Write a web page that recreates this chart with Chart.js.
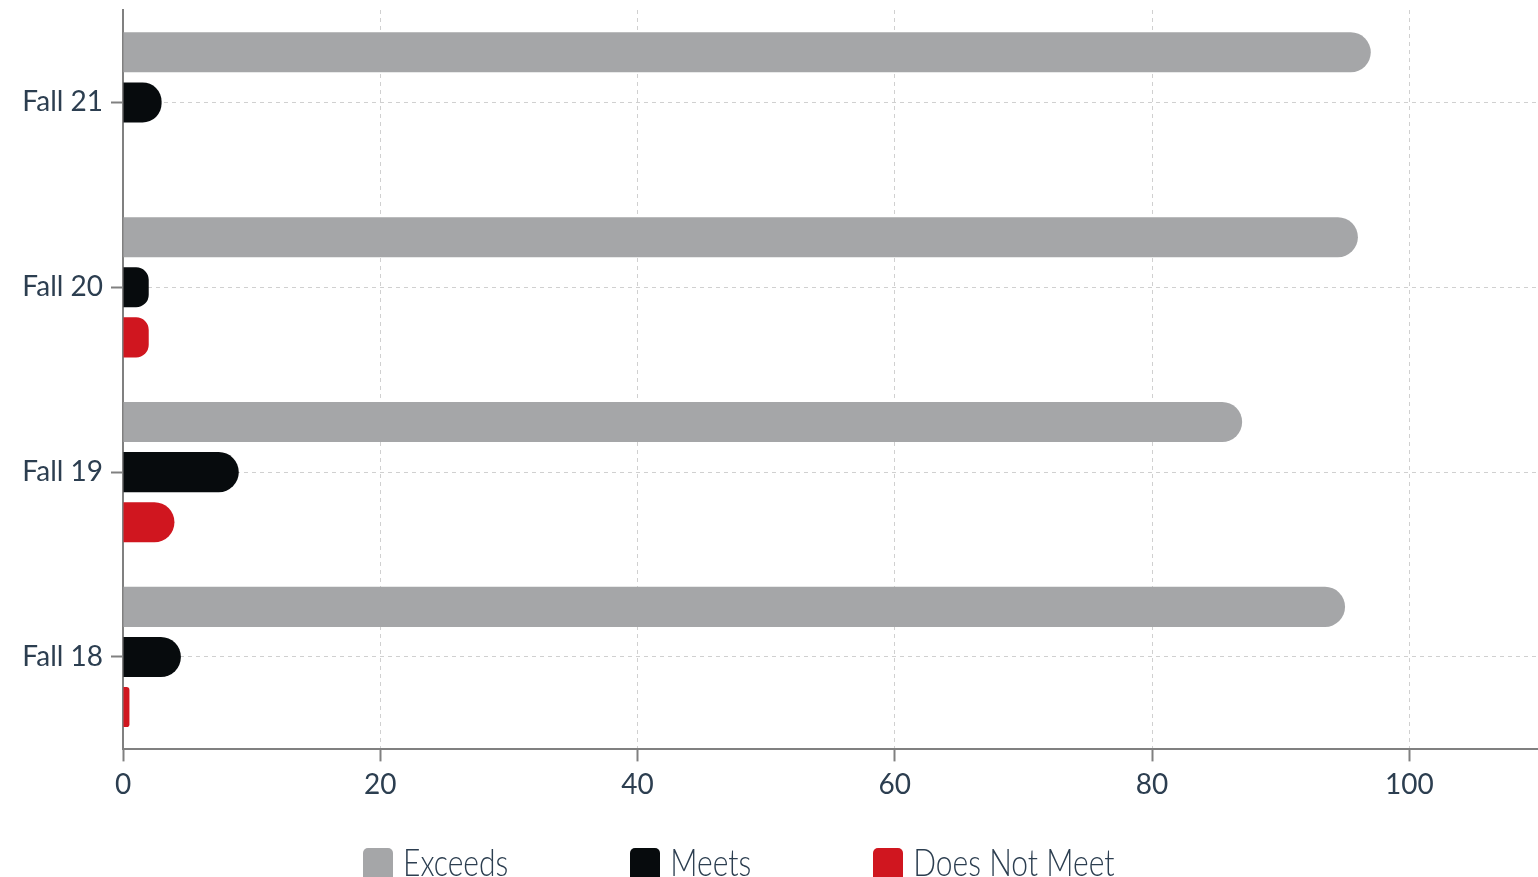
<!DOCTYPE html>
<html>

<head>
  <title>Assessment results</title>
  <meta charset="utf-8">
  <script src="https://cdnjs.cloudflare.com/ajax/libs/Chart.js/4.4.1/chart.umd.min.js"></script>
  <style>
    body { margin: 0; overflow: hidden; background: #fff; }
    .wrap { position: relative; width: 1538px; height: 877px; overflow: hidden; }
    .legend {
      position: absolute; left: 363px; top: 848px;
      display: flex; gap: 122px;
      font-family: Lato, sans-serif; font-weight: 300; font-size: 30px; color: #2c3e50;
    }
    .legend .item { display: flex; align-items: flex-start; }
    .legend .box { width: 30px; height: 36px; border-radius: 5px; margin-right: 10px; }
    .legend .txt { display: inline-block; line-height: 30px; margin-top: -5px; transform: scaleY(1.25); transform-origin: 0 5px; }
  </style>
</head>

<body>
  <div class="wrap">
    <canvas id="bar-chart" width="1538" height="877"></canvas>
    <div class="legend" id="legend"></div>
  </div>

  <script>
    // results per term, in percent
    var terms = ["Fall 21", "Fall 20", "Fall 19", "Fall 18"];
    var exceeds = [97, 96, 87, 95];
    var meets = [3, 2, 9, 4.5];
    var doesNotMeet = [0, 2, 4, 0.5];
    var xTicks = [0, 20, 40, 60, 80, 100];

    var textColor = "#2c3e50";
    var axisColor = "#808080";
    var gridColor = "#d0d0d0";

    var series = [
      { label: "Exceeds", data: exceeds, color: "#a5a6a8" },
      { label: "Meets", data: meets, color: "#070b0d" },
      { label: "Does Not Meet", data: doesNotMeet, color: "#d0161f" }
    ];

    var chart = new Chart(document.getElementById("bar-chart"), {
      type: "bar",
      data: {
        labels: terms,
        datasets: series.map(function (s) {
          return {
            label: s.label,
            data: s.data,
            backgroundColor: s.color,
            borderRadius: 20,
            borderSkipped: "start",
            categoryPercentage: 0.813,
            barPercentage: 0.8
          };
        })
      },
      options: {
        indexAxis: "y",
        responsive: false,
        animation: false,
        layout: { padding: { top: 10, bottom: 68, right: 0 } },
        plugins: {
          legend: { display: false },
          tooltip: { enabled: false }
        },
        scales: {
          x: {
            min: 0,
            max: 110,
            afterBuildTicks: function (scale) {
              scale.ticks = xTicks.map(function (v) { return { value: v }; });
            },
            ticks: { color: textColor, font: { family: "Lato", size: 28 }, padding: 7 },
            grid: { color: gridColor, tickColor: axisColor, tickLength: 12, tickWidth: 2, tickBorderDash: [] },
            border: { color: axisColor, width: 2, dash: [4, 4] }
          },
          y: {
            afterFit: function (scale) {
              scale.width = 123;
              scale.paddingTop = 0;
              scale.paddingBottom = 0;
            },
            ticks: { color: textColor, font: { family: "Lato", size: 28 }, padding: 8 },
            grid: { offset: false, color: gridColor, tickColor: axisColor, tickLength: 12, tickWidth: 2, tickBorderDash: [] },
            border: { color: axisColor, width: 2, dash: [4, 4] }
          }
        }
      }
    });

    // legend below the plot
    var legend = document.getElementById("legend");
    series.forEach(function (s) {
      var item = document.createElement("div");
      item.className = "item";
      var box = document.createElement("span");
      box.className = "box";
      box.style.background = s.color;
      var txt = document.createElement("span");
      txt.className = "txt";
      txt.textContent = s.label;
      item.appendChild(box);
      item.appendChild(txt);
      legend.appendChild(item);
    });
  </script>
</body>

</html>
